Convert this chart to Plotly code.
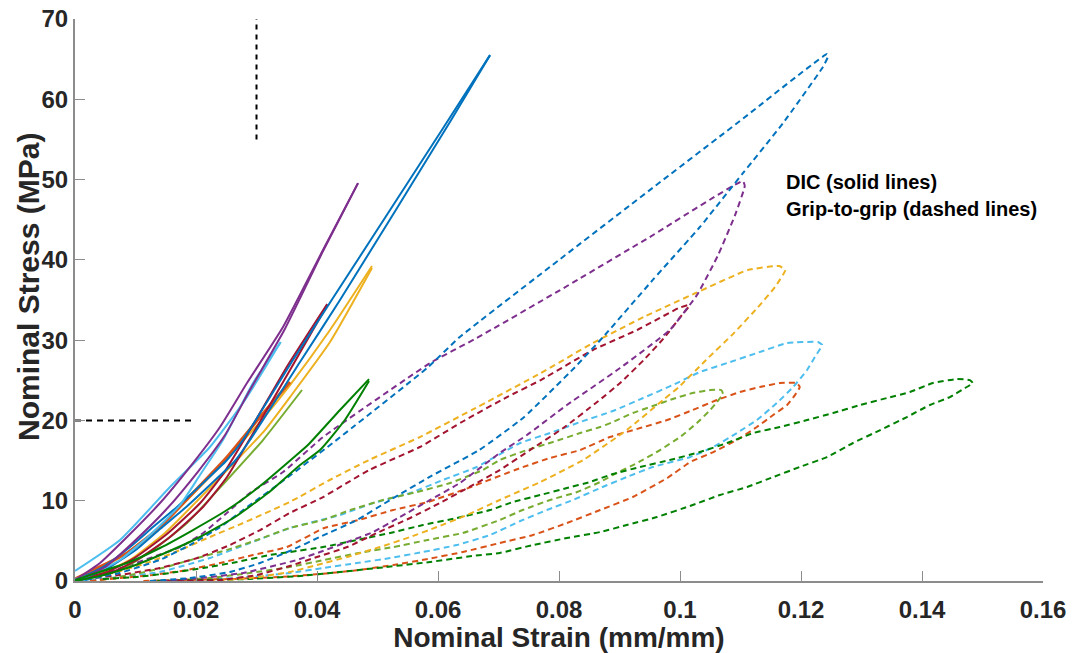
import plotly.graph_objects as go

# ---------------- colours (MATLAB default order + dark green) ----------------
C_BLUE = "#0072BD"
C_ORANGE = "#D95319"
C_YELLOW = "#EDB120"
C_PURPLE = "#7E2F8E"
C_LGREEN = "#77AC30"
C_LBLUE = "#4DBEEE"
C_RED = "#A2142F"
C_DGREEN = "#008000"

# ---------------- tick labels ----------------
x_tick_vals = [0, 0.02, 0.04, 0.06, 0.08, 0.1, 0.12, 0.14, 0.16]
x_tick_text = ["0", "0.02", "0.04", "0.06", "0.08", "0.1", "0.12", "0.14", "0.16"]
y_tick_vals = [0, 10, 20, 30, 40, 50, 60, 70]
y_tick_text = ["0", "10", "20", "30", "40", "50", "60", "70"]

# ================= DIC (solid) curves =================
blue_dic1_x = [0, 0.00463, 0.00909, 0.01289, 0.01686, 0.02116, 0.02512, 0.02777, 0.03603, 0.04264, 0.06083, 0.0686]
blue_dic1_y = [0.12, 1.74, 4.23, 6.72, 9.22, 12.20, 15.07, 17.56, 27.52, 35.24, 56.4, 65.5]
blue_dic2_x = [0, 0.00546, 0.01025, 0.01405, 0.01818, 0.0223, 0.02628, 0.02893, 0.03719, 0.04380, 0.0620, 0.0686]
blue_dic2_y = [0.0, 1.62, 3.99, 6.47, 9.09, 11.96, 14.82, 17.56, 27.27, 34.99, 57.2, 65.5]

purple_dic1_x = [0, 0.00413, 0.0086, 0.01405, 0.0195, 0.02397, 0.02843, 0.03438, 0.04099, 0.04678]
purple_dic1_y = [0.12, 2.24, 5.48, 9.71, 14.69, 19.18, 24.66, 31.63, 41.22, 49.56]
purple_dic2_x = [0, 0.005, 0.0095, 0.0150, 0.0204, 0.0248, 0.0290, 0.0346, 0.0410, 0.04678]
purple_dic2_y = [0.0, 1.74, 4.73, 8.84, 13.70, 18.18, 23.91, 31.26, 41.10, 49.56]

lblue_dic1_x = [0, 0.00744, 0.0157, 0.0223, 0.0281, 0.0340]
lblue_dic1_y = [1.25, 5.11, 11.71, 16.69, 22.54, 29.76]
lblue_dic2_x = [0, 0.0025, 0.00744, 0.0124, 0.01736, 0.02066, 0.02446, 0.02942, 0.0340]
lblue_dic2_y = [0.25, 0.75, 2.62, 5.73, 9.46, 13.2, 17.56, 24.66, 29.76]

red_dic1_x = [0, 0.00579, 0.01025, 0.0157, 0.02116, 0.02512, 0.03025, 0.03554, 0.04169]
red_dic1_y = [0.12, 1.0, 2.62, 5.48, 9.22, 12.95, 19.43, 26.28, 34.37]
red_dic2_x = [0, 0.0053, 0.0098, 0.0152, 0.0207, 0.0246, 0.0298, 0.0351, 0.04169]
red_dic2_y = [0.12, 1.12, 2.86, 5.85, 9.71, 13.45, 19.93, 26.78, 34.5]

yellow_dic1_x = [0, 0.0033, 0.0086, 0.01405, 0.01983, 0.02562, 0.03058, 0.03554, 0.04215, 0.04909]
yellow_dic1_y = [0.25, 1.12, 3.49, 6.72, 11.08, 15.69, 19.80, 24.41, 31.26, 39.23]
yellow_dic2_x = [0, 0.00413, 0.00909, 0.01488, 0.02066, 0.02645, 0.0314, 0.03554, 0.04215, 0.04909]
yellow_dic2_y = [0.12, 0.87, 2.62, 5.98, 10.34, 14.82, 18.8, 22.91, 29.76, 38.98]

orange_dic_x = [0, 0.003, 0.0086, 0.01405, 0.0195, 0.02512, 0.03058, 0.03554]
orange_dic_y = [0.25, 1.37, 3.49, 6.72, 10.96, 15.44, 20.42, 24.78]

lgreen_dic_x = [0, 0.0025, 0.00744, 0.01289, 0.01851, 0.02512, 0.03107, 0.03752]
lgreen_dic_y = [0.12, 0.37, 1.37, 3.86, 7.22, 12.58, 17.56, 23.79]

dgreen_dic1_x = [0, 0.003, 0.0086, 0.01405, 0.0195, 0.02512, 0.03058, 0.03603, 0.0385, 0.0438, 0.0486]
dgreen_dic1_y = [0.12, 0.87, 2.24, 4.11, 6.35, 8.84, 11.83, 15.32, 16.94, 21.3, 25.15]
dgreen_dic2_x = [0, 0.00413, 0.00909, 0.01488, 0.02066, 0.02645, 0.0319, 0.0372, 0.0405, 0.0446, 0.0486]
dgreen_dic2_y = [0.0, 0.62, 1.74, 3.49, 5.48, 7.97, 10.96, 14.45, 16.31, 20.05, 24.91]

# ================= Grip-to-grip (dashed) loops =================
# "up" branch: listed from tip down to origin (upper/left side of loop)
# "dn" branch: listed from tip down to origin (lower/right side of loop)
blue_grip_up_x = [0.1243, 0.1099, 0.0950, 0.0802, 0.0636, 0.0582, 0.0426, 0.0339, 0.0289, 0.0240, 0.0190, 0.0140, 0.0074, 0.0017]
blue_grip_up_y = [65.63, 57.29, 48.69, 40.10, 30.39, 26.53, 17.19, 12.20, 9.46, 6.72, 4.48, 2.62, 1.0, 0.12]
blue_grip_dn_x = [0.1245, 0.1236, 0.1170, 0.1104, 0.1033, 0.0955, 0.0873, 0.0826, 0.0742, 0.0668, 0.0587, 0.0521, 0.0466, 0.0405, 0.0360, 0.0306, 0.0256, 0.0190, 0.0124]
blue_grip_dn_y = [65.4, 64.0, 57.0, 50.8, 44.1, 37.5, 30.4, 26.6, 20.4, 16.3, 13.0, 10.1, 7.6, 5.5, 3.9, 2.24, 1.12, 0.37, 0.0]

purple_grip_up_x = [0.1104, 0.0950, 0.0802, 0.0664, 0.0587, 0.0410, 0.0344, 0.0289, 0.0251, 0.0212, 0.0174, 0.0129, 0.0091, 0.0041, 0.0008]
purple_grip_up_y = [49.81, 42.84, 36.24, 30.26, 27.15, 17.93, 13.57, 10.96, 8.47, 5.98, 4.23, 2.99, 1.99, 0.75, 0.12]
purple_grip_dn_x = [0.1107, 0.1091, 0.1063, 0.1028, 0.0983, 0.0901, 0.0813, 0.0747, 0.0702, 0.0636, 0.0587, 0.0537, 0.0493, 0.0450, 0.0405, 0.0367, 0.0278, 0.0207, 0.0140]
purple_grip_dn_y = [49.19, 45.58, 40.60, 35.62, 31.26, 26.53, 21.92, 18.18, 15.94, 12.20, 10.09, 7.97, 6.10, 4.86, 3.61, 2.62, 1.0, 0.37, 0.0]

yellow_grip_up_x = [0.1164, 0.1112, 0.1026, 0.0940, 0.0856, 0.0770, 0.0656, 0.0570, 0.0486, 0.0421, 0.0355, 0.0278, 0.0223, 0.0174, 0.0119, 0.0063, 0.0020]
yellow_grip_up_y = [39.23, 38.73, 35.87, 32.88, 29.64, 25.90, 21.30, 17.93, 15.07, 12.58, 9.84, 7.22, 5.48, 3.86, 2.24, 1.0, 0.37]
yellow_grip_dn_x = [0.1174, 0.1157, 0.1129, 0.1089, 0.1043, 0.0998, 0.0972, 0.0912, 0.0840, 0.0769, 0.0702, 0.0648, 0.0598, 0.0554, 0.0504, 0.0450, 0.0400, 0.0355, 0.0289, 0.0223]
yellow_grip_dn_y = [38.73, 36.61, 34.12, 30.88, 27.52, 24.16, 22.54, 18.80, 15.07, 12.33, 10.09, 8.22, 6.72, 5.48, 4.23, 2.99, 1.99, 1.12, 0.37, 0.0]

red_grip_up_x = [0.1013, 0.0998, 0.0929, 0.0856, 0.0770, 0.0714, 0.0645, 0.0570, 0.0486, 0.0410, 0.0355, 0.0306, 0.0256, 0.0202, 0.0140, 0.0074, 0.0017]
red_grip_up_y = [34.37, 34.0, 31.26, 28.77, 25.03, 22.91, 20.05, 16.69, 13.82, 10.46, 8.47, 6.35, 4.48, 2.86, 1.62, 0.75, 0.25]
red_grip_dn_x = [0.1015, 0.1003, 0.0975, 0.0940, 0.0901, 0.0863, 0.0807, 0.0752, 0.0702, 0.0658, 0.0603, 0.0554, 0.0499, 0.0450, 0.0400, 0.0355, 0.0301, 0.0240, 0.0140]
red_grip_dn_y = [34.25, 33.13, 30.39, 27.52, 24.66, 22.29, 19.05, 16.31, 13.82, 11.96, 9.71, 7.85, 5.98, 4.23, 2.99, 1.87, 0.75, 0.12, 0.0]

lblue_grip_up_x = [0.1228, 0.1177, 0.1127, 0.1078, 0.1033, 0.0988, 0.0939, 0.0889, 0.0835, 0.0785, 0.0736, 0.0664, 0.0608, 0.0554, 0.0493, 0.0438, 0.0355, 0.0289, 0.0223, 0.0140, 0.0058, 0.0008]
lblue_grip_up_y = [29.76, 29.64, 28.39, 27.15, 26.03, 24.41, 22.79, 21.17, 19.80, 18.43, 17.19, 14.20, 12.58, 10.96, 9.71, 8.22, 6.60, 4.73, 2.86, 1.12, 0.37, 0.0]
lblue_grip_dn_x = [0.1235, 0.1223, 0.1210, 0.1187, 0.1160, 0.1127, 0.1094, 0.1055, 0.1017, 0.0955, 0.0912, 0.0868, 0.0823, 0.0780, 0.0736, 0.0686, 0.0631, 0.0575, 0.0521, 0.0466, 0.0410, 0.0355, 0.0289, 0.0207]
lblue_grip_dn_y = [29.39, 27.90, 26.28, 24.16, 22.17, 20.05, 18.43, 16.69, 15.44, 14.20, 12.95, 11.58, 10.09, 8.84, 7.47, 5.73, 4.48, 3.61, 2.86, 2.24, 1.62, 1.0, 0.5, 0.12]

orange_grip_up_x = [0.1193, 0.1165, 0.1132, 0.1099, 0.1061, 0.1021, 0.0979, 0.0934, 0.0884, 0.0835, 0.0785, 0.0736, 0.0641, 0.0583, 0.0526, 0.0469, 0.0412, 0.0350, 0.0294, 0.0240, 0.0185, 0.0129, 0.0074, 0.0025]
orange_grip_up_y = [24.66, 24.66, 24.16, 23.54, 22.54, 21.30, 20.05, 19.05, 17.93, 16.31, 15.32, 14.07, 11.33, 9.84, 8.84, 7.60, 6.60, 4.23, 3.24, 2.24, 1.37, 0.75, 0.37, 0.0]
orange_grip_dn_x = [0.1198, 0.1190, 0.1177, 0.1154, 0.1127, 0.1094, 0.1055, 0.1017, 0.0979, 0.0922, 0.0868, 0.0813, 0.0757, 0.0702, 0.0641, 0.0583, 0.0526, 0.0469, 0.0405, 0.0339, 0.0256, 0.0174, 0.0107]
orange_grip_dn_y = [24.16, 23.16, 21.92, 20.67, 19.18, 17.56, 16.06, 14.82, 12.83, 10.46, 8.84, 7.22, 5.73, 4.73, 3.61, 2.74, 1.99, 1.37, 0.87, 0.5, 0.25, 0.12, 0.0]

lgreen_grip_up_x = [0.1068, 0.1050, 0.1021, 0.0988, 0.0955, 0.0922, 0.0889, 0.0868, 0.0835, 0.0790, 0.0747, 0.0702, 0.0674, 0.0620, 0.0565, 0.0509, 0.0455, 0.0410, 0.0355, 0.0301, 0.0251, 0.0202, 0.0145, 0.0091, 0.0041]
lgreen_grip_up_y = [23.79, 23.79, 23.41, 22.67, 21.79, 20.92, 19.80, 19.18, 18.43, 17.31, 16.31, 15.07, 13.82, 12.20, 11.08, 10.09, 8.84, 7.60, 6.60, 5.11, 3.86, 2.86, 1.62, 0.75, 0.12]
lgreen_grip_dn_x = [0.1071, 0.1061, 0.1050, 0.1028, 0.1000, 0.0967, 0.0929, 0.0889, 0.0868, 0.0830, 0.0785, 0.0740, 0.0702, 0.0641, 0.0583, 0.0526, 0.0469, 0.0412, 0.0355, 0.0289, 0.0223, 0.0157]
lgreen_grip_dn_y = [23.29, 22.29, 21.30, 19.68, 17.93, 16.31, 14.69, 13.20, 12.33, 11.08, 10.09, 8.84, 7.60, 5.98, 5.11, 4.23, 3.49, 2.62, 1.74, 1.0, 0.37, 0.0]

dgreen_grip_up_x = [0.1479, 0.1458, 0.1418, 0.1380, 0.1342, 0.1298, 0.1253, 0.1210, 0.1165, 0.1121, 0.1078, 0.1033, 0.0983, 0.0934, 0.0889, 0.0851, 0.0813, 0.0769, 0.0724, 0.0686, 0.0631, 0.0575, 0.0521, 0.0466, 0.0410, 0.0355, 0.0322, 0.0268, 0.0212, 0.0157, 0.0102, 0.0046]
dgreen_grip_up_y = [25.03, 25.16, 24.66, 23.54, 22.79, 21.92, 20.92, 20.05, 19.18, 18.43, 17.19, 16.06, 15.07, 14.20, 13.33, 12.33, 11.58, 10.71, 9.84, 8.84, 7.85, 6.97, 5.98, 5.11, 4.23, 3.61, 3.24, 2.37, 1.62, 1.0, 0.5, 0.25]
dgreen_grip_dn_x = [0.1484, 0.1471, 0.1446, 0.1413, 0.1375, 0.1331, 0.1286, 0.1243, 0.1198, 0.1154, 0.1111, 0.1066, 0.1021, 0.0962, 0.0912, 0.0868, 0.0813, 0.0757, 0.0702, 0.0656, 0.0587, 0.0514, 0.0438, 0.0372, 0.0289, 0.0207, 0.0124]
dgreen_grip_dn_y = [24.66, 24.03, 22.91, 21.92, 20.42, 18.80, 17.19, 15.44, 14.20, 12.95, 11.71, 10.71, 9.46, 7.97, 6.97, 6.10, 5.35, 4.48, 3.49, 3.11, 2.37, 1.74, 1.12, 0.62, 0.25, 0.12, 0.0]

# reference lines
ref_h_x = [0, 0.02]
ref_h_y = [20, 20]
ref_v_x = [0.03, 0.03]
ref_v_y = [55, 70]

fig = go.Figure()

grip_loops = [
    (lblue_grip_up_x, lblue_grip_up_y, lblue_grip_dn_x, lblue_grip_dn_y, C_LBLUE),
    (lgreen_grip_up_x, lgreen_grip_up_y, lgreen_grip_dn_x, lgreen_grip_dn_y, C_LGREEN),
    (orange_grip_up_x, orange_grip_up_y, orange_grip_dn_x, orange_grip_dn_y, C_ORANGE),
    (dgreen_grip_up_x, dgreen_grip_up_y, dgreen_grip_dn_x, dgreen_grip_dn_y, C_DGREEN),
    (yellow_grip_up_x, yellow_grip_up_y, yellow_grip_dn_x, yellow_grip_dn_y, C_YELLOW),
    (red_grip_up_x, red_grip_up_y, red_grip_dn_x, red_grip_dn_y, C_RED),
    (purple_grip_up_x, purple_grip_up_y, purple_grip_dn_x, purple_grip_dn_y, C_PURPLE),
    (blue_grip_up_x, blue_grip_up_y, blue_grip_dn_x, blue_grip_dn_y, C_BLUE),
]
for ux, uy, dx, dy, col in grip_loops:
    xs = list(reversed(ux)) + list(dx)
    ys = list(reversed(uy)) + list(dy)
    fig.add_trace(go.Scatter(x=xs, y=ys, mode="lines",
                             line=dict(color=col, width=2, dash="6px,4px", shape="spline", smoothing=0.4),
                             showlegend=False, hoverinfo="skip"))

dic_curves = [
    (lgreen_dic_x, lgreen_dic_y, C_LGREEN, 2),
    (yellow_dic1_x, yellow_dic1_y, C_YELLOW, 2),
    (yellow_dic2_x, yellow_dic2_y, C_YELLOW, 2),
    (orange_dic_x, orange_dic_y, C_ORANGE, 3),
    (red_dic1_x, red_dic1_y, C_RED, 2),
    (red_dic2_x, red_dic2_y, C_RED, 2),
    (blue_dic1_x, blue_dic1_y, C_BLUE, 2),
    (blue_dic2_x, blue_dic2_y, C_BLUE, 2),
    (lblue_dic1_x, lblue_dic1_y, C_LBLUE, 2),
    (lblue_dic2_x, lblue_dic2_y, C_LBLUE, 2),
    (purple_dic1_x, purple_dic1_y, C_PURPLE, 2),
    (purple_dic2_x, purple_dic2_y, C_PURPLE, 2),
    (dgreen_dic1_x, dgreen_dic1_y, C_DGREEN, 2),
    (dgreen_dic2_x, dgreen_dic2_y, C_DGREEN, 2),
]
for xs, ys, col, w in dic_curves:
    fig.add_trace(go.Scatter(x=xs, y=ys, mode="lines", line=dict(color=col, width=w, shape="spline", smoothing=0.5),
                             showlegend=False, hoverinfo="skip"))

fig.add_trace(go.Scatter(x=ref_h_x, y=ref_h_y, mode="lines", line=dict(color="black", width=2, dash="6px,5px"),
                         showlegend=False, hoverinfo="skip"))
fig.add_trace(go.Scatter(x=ref_v_x, y=ref_v_y, mode="lines", line=dict(color="black", width=2, dash="5px,5px"),
                         showlegend=False, hoverinfo="skip"))

FONT = "Liberation Sans, Arial, sans-serif"

fig.add_annotation(x=0.1172, y=(581 - 182) / 8.03, xref="x", yref="y", text="<b>DIC (solid lines)</b>",
                   showarrow=False, xanchor="left", yanchor="middle",
                   font=dict(family=FONT, size=20, color="black"))
fig.add_annotation(x=0.1172, y=(581 - 209) / 8.03, xref="x", yref="y", text="<b>Grip-to-grip (dashed lines)</b>",
                   showarrow=False, xanchor="left", yanchor="middle",
                   font=dict(family=FONT, size=20, color="black"))
# y-axis title as a rotated annotation (centred slightly above the plot middle, as in the reference)
fig.add_annotation(x=-0.0486, y=0.523, xref="paper", yref="paper", text="<b>Nominal Stress (MPa)</b>",
                   textangle=-90, showarrow=False, xanchor="center", yanchor="middle",
                   font=dict(family=FONT, size=30, color="#262626"))

axis_common = dict(showline=True, linecolor="#8c8c8c", linewidth=2, ticks="inside", ticklen=10,
                   tickcolor="#8c8c8c", tickwidth=1, showgrid=False, zeroline=False, mirror=False,
                   automargin=False, ticklabeloverflow="allow",
                   tickfont=dict(family=FONT, size=24, color="#262626", weight="bold"))

fig.update_xaxes(range=[0, 0.16], tickvals=x_tick_vals, ticktext=x_tick_text, ticklabelstandoff=6,
                 title=dict(text="<b>Nominal Strain (mm/mm)</b>", font=dict(family=FONT, size=28, color="#262626"),
                            standoff=2),
                 **axis_common)
fig.update_yaxes(range=[0, 70], tickvals=y_tick_vals, ticktext=y_tick_text, **axis_common)

# plot area at x 75..1043, y 19..581 of the 1072x653 page (body margin removed below)
fig.update_layout(width=1072, height=653, plot_bgcolor="white", paper_bgcolor="white",
                  margin=dict(l=75, r=29, t=19, b=72), font=dict(family=FONT))

fig.write_html("out.html", config={"displayModeBar": False},
               post_script="document.body.style.margin='0';")
